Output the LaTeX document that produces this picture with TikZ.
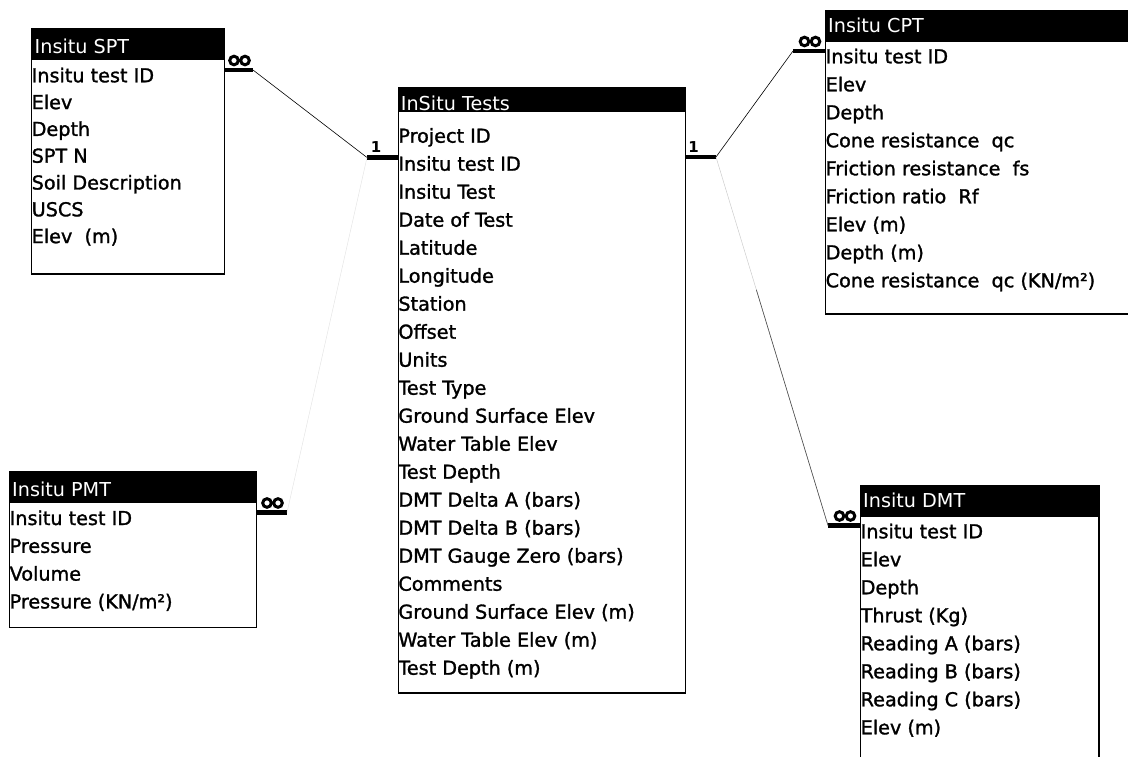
\documentclass[tikz,border=0pt]{standalone}
\usepackage{fontspec}
\setmainfont{DejaVu Sans}
\newfontfamily\rowfont[FakeBold=1.4]{DejaVu Sans}
\usetikzlibrary{calc}

\begin{document}
\begin{tikzpicture}[x=1pt,y=-1pt,
  tblbody/.style={draw=black,line width=1.4pt,fill=white,inner sep=0pt,anchor=north west},
  tblhead/.style={fill=black,inner sep=0pt,anchor=north west},
  tbltitle/.style={text=white,inner sep=0pt,anchor=base west,font=\fontsize{19.2}{22}\selectfont},
  field/.style={inner sep=0pt,anchor=base west,font=\rowfont\fontsize{19.2}{22}\selectfont},
  card/.style={line width=4.5pt},
  many/.style={line width=3pt},
  one/.style={inner sep=0pt,anchor=base,font=\bfseries\fontsize{15}{15}\selectfont},
  link/.style={line width=0.6pt},
  faint/.style={line width=0.5pt,black!20}]
\useasboundingbox (0,0) rectangle (1128,757);

% tables
\node[tblbody,minimum width=193pt,minimum height=245.6pt] (spt) at (31,27.7) {};
\node[tblhead,minimum width=193pt,minimum height=32.3pt] (spt-hd) at (spt.north west) {};
\node[tbltitle] (spt-title) at ($(spt.north west)+(3.5,25.6)$) {Insitu SPT};
\foreach \f [count=\i] in {Insitu test ID,Elev,Depth,SPT N,Soil Description,USCS,Elev\ \ (m)}
  \node[field] (spt-\i) at (31.5,{82.3+26.8*(\i-1)}) {\f};

\node[tblbody,minimum width=287.3pt,minimum height=605.6pt] (tests) at (397.7,86.7) {};
\node[tblhead,minimum width=287.3pt,minimum height=25.6pt] (tests-hd) at (tests.north west) {};
\node[tbltitle] (tests-title) at ($(tests.north west)+(3,23.8)$) {InSitu Tests};
\foreach \f [count=\i] in {Project ID,Insitu test ID,Insitu Test,Date of Test,Latitude,Longitude,Station,Offset,Units,Test Type,Ground Surface Elev,Water Table Elev,Test Depth,DMT Delta A (bars),DMT Delta B (bars),DMT Gauge Zero (bars),Comments,Ground Surface Elev (m),Water Table Elev (m),Test Depth (m)}
  \node[field] (tests-\i) at (398.2,{142.7+28*(\i-1)}) {\f};

\node[tblbody,minimum width=310pt,minimum height=303.3pt] (cpt) at (825,10) {};
\node[tblhead,minimum width=310pt,minimum height=31.7pt] (cpt-hd) at (cpt.north west) {};
\node[tbltitle] (cpt-title) at ($(cpt.north west)+(3,22.3)$) {Insitu CPT};
\foreach \f [count=\i] in {Insitu test ID,Elev,Depth,Cone resistance\ \ qc,Friction resistance\ \ fs,Friction ratio\ \ Rf,Elev (m),Depth (m),Cone resistance\ \ qc (KN/m²)}
  \node[field] (cpt-\i) at (825.5,{63.3+28*(\i-1)}) {\f};

\node[tblbody,minimum width=247pt,minimum height=155.7pt] (pmt) at (9,471) {};
\node[tblhead,minimum width=247pt,minimum height=31.7pt] (pmt-hd) at (pmt.north west) {};
\node[tbltitle] (pmt-title) at ($(pmt.north west)+(3,25)$) {Insitu PMT};
\foreach \f [count=\i] in {Insitu test ID,Pressure,Volume,Pressure (KN/m²)}
  \node[field] (pmt-\i) at (9.5,{525+27.8*(\i-1)}) {\f};

\node[tblbody,minimum width=238.3pt,minimum height=290pt] (dmt) at (860,485) {};
\node[tblhead,minimum width=238.3pt,minimum height=31.7pt] (dmt-hd) at (dmt.north west) {};
\node[tbltitle] (dmt-title) at ($(dmt.north west)+(3,22.3)$) {Insitu DMT};
\foreach \f [count=\i] in {Insitu test ID,Elev,Depth,Thrust (Kg),Reading A (bars),Reading B (bars),Reading C (bars),Elev (m)}
  \node[field] (dmt-\i) at (860.5,{538.3+28*(\i-1)}) {\f};

% cardinality bars
\coordinate (spt-in) at (224,70);      \coordinate (spt-out) at (253,70);
\coordinate (cpt-in) at (825,51);      \coordinate (cpt-out) at (793,51);
\coordinate (dmt-in) at (860,525.5);   \coordinate (dmt-out) at (828,525.5);
\coordinate (pmt-in) at (256,512.5);   \coordinate (pmt-out) at (287,512.5);
\coordinate (tl-in) at (397.7,157.5);  \coordinate (tl-out) at (367,157.5);
\coordinate (tr-in) at (685,157);      \coordinate (tr-out) at (716,157);
\foreach \b in {spt,cpt,dmt,pmt,tl,tr}
  \draw[card] (\b-in) -- (\b-out);
\foreach \b in {spt,cpt,dmt,pmt}
  \draw[many] ($($(\b-in)!0.5!(\b-out)$)+(-4.5,-9.5)$) circle[radius=4.3pt]
              ($($(\b-in)!0.5!(\b-out)$)+(6.5,-9.5)$) circle[radius=4.3pt];
\node[one] (tl-one) at ($(tl-out)+(9,-4.5)$) {1};
\node[one] (tr-one) at ($(tr-in)+(8.5,-4.5)$) {1};

% links
\draw[link] (spt-out) -- (tl-out);
\draw[link] (tr-out) -- (cpt-out);
\draw[faint] (tr-out) -- (dmt-out);
\draw[link,black!70] ($(tr-out)!0.36!(dmt-out)$) -- (dmt-out);
\draw[faint,black!10] (tl-out) -- (pmt-out);
\end{tikzpicture}
\end{document}
